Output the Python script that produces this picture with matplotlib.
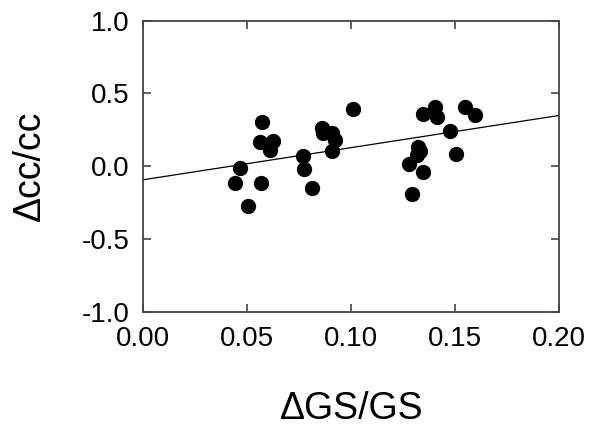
''' cambio relativo cc vs GS '''
import numpy as np
import matplotlib
matplotlib.use('Agg')
import matplotlib.pyplot as plt

plt.rcParams['font.family'] = ['Liberation Sans', 'DejaVu Sans']

dgs = [0.0572, 0.0561, 0.0609, 0.0625, 0.0465, 0.0441, 0.0566, 0.0505,
       0.0769, 0.0773, 0.0810, 0.0858, 0.0865, 0.0906, 0.0922, 0.0906, 0.1007,
       0.1346, 0.1402, 0.1411, 0.1547, 0.1595, 0.1474, 0.1503,
       0.1323, 0.1331, 0.1315, 0.1279, 0.1343, 0.1293]
dcc = [0.305, 0.167, 0.110, 0.174, -0.009, -0.115, -0.112, -0.275,
       0.069, -0.021, -0.153, 0.260, 0.226, 0.226, 0.179, 0.106, 0.391,
       0.362, 0.404, 0.335, 0.404, 0.351, 0.243, 0.087,
       0.133, 0.105, 0.076, 0.018, -0.039, -0.188]

# recta de ajuste
ordenada = -0.093
pendiente = 2.21

fig = plt.figure(figsize=(5.89, 4.28), dpi=100)
ax = fig.add_axes([0.2433, 0.2717, 0.7063, 0.6799])

X = np.array([0.0, 0.2])
ax.plot(X, ordenada + pendiente * X, color='black', lw=0.9)
ax.scatter(dgs, dcc, s=100, color='black', zorder=3)

ax.set_xlim(0, 0.2)
ax.set_ylim(-1, 1)
ax.set_xticks([0.0, 0.05, 0.10, 0.15, 0.20])
ax.set_xticklabels(['0.00', '0.05', '0.10', '0.15', '0.20'])
ax.set_yticks([-1.0, -0.5, 0.0, 0.5, 1.0])
ax.set_yticklabels(['-1.0', '-0.5', '0.0', '0.5', '1.0'])
ax.tick_params(direction='in', length=6, width=1.2, labelsize=20, color='#444444',
               top=True, right=True, pad=10)
for s in ax.spines.values():
    s.set_linewidth(1.3)
    s.set_color('#444444')

ax.set_xlabel('ΔGS/GS', fontsize=27, va='center')
ax.xaxis.set_label_coords(0.5, -0.335)
ax.set_ylabel('Δcc/cc', fontsize=27, va='center')
ax.yaxis.set_label_coords(-0.272, 0.5)

fig.savefig('out.png', dpi=100)
